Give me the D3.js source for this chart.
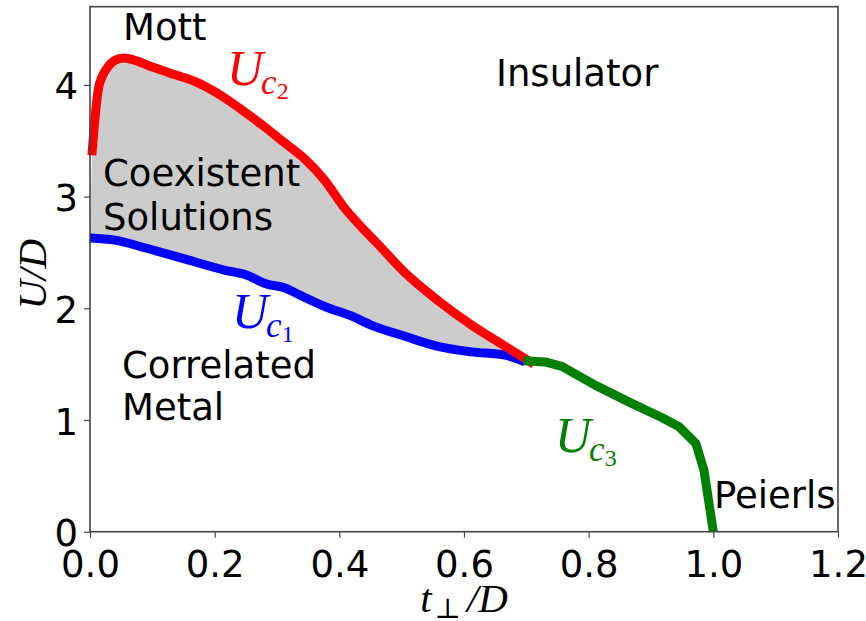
<!DOCTYPE html>
<html>
<head>
<meta charset="utf-8">
<script src="https://cdn.jsdelivr.net/npm/d3@7"></script>
<style>
  html, body { margin: 0; padding: 0; background: #fff; }
  svg { display: block; }
  .sans { font-family: "DejaVu Sans", sans-serif; }
  .math { font-family: "Liberation Serif", "DejaVu Serif", serif; font-style: italic; }
</style>
</head>
<body>
<svg id="chart" width="866" height="621"></svg>
<script>
// ---------------- data ----------------
const redT  = [0.003, 0.008, 0.013, 0.020, 0.030, 0.040, 0.054, 0.072, 0.100, 0.137, 0.169, 0.200, 0.225, 0.250, 0.279, 0.310, 0.344, 0.376, 0.408, 0.435, 0.461, 0.505, 0.558, 0.612, 0.666, 0.712];
const redU  = [3.37, 3.70, 3.95, 4.08, 4.17, 4.22, 4.24, 4.22, 4.16, 4.09, 4.03, 3.94, 3.85, 3.75, 3.63, 3.49, 3.34, 3.15, 2.90, 2.73, 2.58, 2.32, 2.07, 1.85, 1.66, 1.50];

const blueT = [0.000, 0.040, 0.089, 0.153, 0.217, 0.250, 0.282, 0.314, 0.336, 0.379, 0.420, 0.451, 0.505, 0.558, 0.612, 0.666, 0.698];
const blueU = [2.63, 2.61, 2.54, 2.44, 2.34, 2.30, 2.22, 2.18, 2.12, 2.01, 1.93, 1.85, 1.75, 1.66, 1.61, 1.58, 1.52];

const greenT = [0.695, 0.730, 0.757, 0.811, 0.865, 0.918, 0.945, 0.972, 0.985, 1.000];
const greenU = [1.53, 1.52, 1.48, 1.31, 1.16, 1.02, 0.94, 0.79, 0.55, 0.00];

const xTicks = [0.0, 0.2, 0.4, 0.6, 0.8, 1.0, 1.2];
const xMinorTicks = d3.range(0, 1.2001, 0.05);
const yTicks = [0, 1, 2, 3, 4];
const yMinorTicks = d3.range(0, 4.7, 0.2);

const regionLabels = ["Mott", "Insulator", "Coexistent", "Solutions", "Correlated", "Metal", "Peierls"];

// ---------------- layout ----------------
const svg = d3.select("#chart");
const mLeft = 90, mRight = 838, mTop = 6.7, mBottom = 531.7;
const FS = 37;
const x = d3.scaleLinear().domain([0, 1.2]).range([mLeft, mRight]);
const y = d3.scaleLinear().domain([0, 4.7]).range([mBottom, mTop]);

const red = redT.map((t, i) => [t, redU[i]]);
const blue = blueT.map((t, i) => [t, blueU[i]]);
const green = greenT.map((t, i) => [t, greenU[i]]);

const smooth = d3.line().x(d => x(d[0])).y(d => y(d[1])).curve(d3.curveMonotoneX);
const straight = d3.line().x(d => x(d[0])).y(d => y(d[1]));

// fill between curves (red forward, blue backward)
const poly = red.concat(blue.slice().reverse());
svg.append("path")
  .attr("d", d3.line().x(d => x(d[0])).y(d => y(d[1])).curve(d3.curveLinearClosed)(poly))
  .attr("fill", "#cccccc").attr("stroke", "none");

// region labels
const lab = svg.append("g").attr("class", "sans").attr("font-size", FS).attr("fill", "#000");
const labPos = [[123, 40], [496, 86], [103, 186], [103, 230], [122, 378], [122, 420], [714, 508]];
regionLabels.forEach((s, i) => {
  lab.append("text").attr("x", labPos[i][0]).attr("y", labPos[i][1]).text(s);
});

// curves
svg.append("path").attr("d", smooth(blue)).attr("fill", "none")
  .attr("stroke", "#0000ff").attr("stroke-width", 9).attr("stroke-linejoin", "round");
svg.append("path").attr("d", smooth(red)).attr("fill", "none")
  .attr("stroke", "#ff0000").attr("stroke-width", 9).attr("stroke-linejoin", "round");
svg.append("path").attr("d", straight(green)).attr("fill", "none")
  .attr("stroke", "#008000").attr("stroke-width", 9).attr("stroke-linejoin", "round");

// curve labels U_c
function ucLabel(px, py, sub, color) {
  const t = svg.append("text").attr("class", "math").attr("x", px).attr("y", py)
    .attr("fill", color).attr("font-size", 50);
  t.append("tspan").text("U");
  t.append("tspan").attr("font-size", 35).attr("dy", 9).attr("dx", -2).text("c");
  t.append("tspan").attr("font-size", 24).attr("dy", 5).attr("font-style", "normal").text(sub);
}
ucLabel(227, 85, "2", "#ff0000");
ucLabel(232, 328, "1", "#0000ff");
ucLabel(555, 452, "3", "#008000");

// axes
const axCol = "#444";
const gx = svg.append("g").attr("transform", `translate(0,${mBottom})`);
gx.call(d3.axisBottom(x).tickValues(xMinorTicks).tickSize(3.5).tickFormat(""));
gx.call(d3.axisBottom(x).tickValues(xTicks).tickSize(6).tickPadding(13).tickFormat(d3.format(".1f")));
gx.selectAll(".domain").remove();
gx.selectAll("line").attr("stroke", axCol).attr("stroke-width", 1.2);
gx.selectAll("text").attr("font-size", FS).attr("fill", "#000").attr("font-family", "DejaVu Sans");

const gy = svg.append("g").attr("transform", `translate(${mLeft},0)`);
gy.call(d3.axisLeft(y).tickValues(yMinorTicks).tickSize(3.5).tickFormat(""));
gy.call(d3.axisLeft(y).tickValues(yTicks).tickSize(6).tickPadding(6).tickFormat(d3.format("d")));
gy.selectAll(".domain").remove();
gy.selectAll("line").attr("stroke", axCol).attr("stroke-width", 1.2);
gy.selectAll("text").attr("font-size", FS).attr("fill", "#000").attr("dy", "0.38em")
  .attr("font-family", "DejaVu Sans");

// frame
svg.append("rect").attr("x", mLeft).attr("y", mTop).attr("width", mRight - mLeft).attr("height", mBottom - mTop)
  .attr("fill", "none").attr("stroke", axCol).attr("stroke-width", 1.6);

// axis titles
const xt = svg.append("text").attr("class", "math").attr("x", (mLeft + mRight) / 2).attr("y", 612)
  .attr("text-anchor", "middle").attr("font-size", 41).attr("fill", "#000");
xt.append("tspan").text("t");
xt.append("tspan").attr("font-size", 28).attr("dy", 6).attr("dx", 3).attr("font-style", "normal").text("\u22A5");
xt.append("tspan").attr("dy", -6).attr("dx", 6).text("/D");

svg.append("text").attr("class", "math").attr("transform", `translate(46,${(mTop + mBottom) / 2 + 5}) rotate(-90)`)
  .attr("text-anchor", "middle").attr("font-size", 41).attr("fill", "#000").text("U/D");
</script>
</body>
</html>
